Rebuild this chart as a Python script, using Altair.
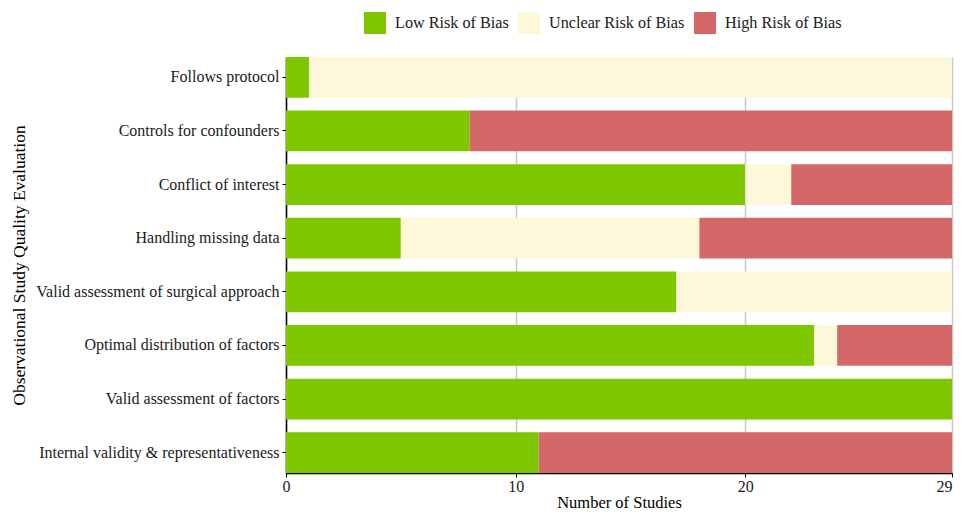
import altair as alt
import pandas as pd

domains = [
    "Follows protocol",
    "Controls for confounders",
    "Conflict of interest",
    "Handling missing data",
    "Valid assessment of surgical approach",
    "Optimal distribution of factors",
    "Valid assessment of factors",
    "Internal validity & representativeness",
]
low = [1, 8, 20, 5, 17, 23, 29, 11]
unclear = [28, 0, 2, 13, 12, 1, 0, 0]
high = [0, 21, 7, 11, 0, 5, 0, 18]

categories = ["Low Risk of Bias", "Unclear Risk of Bias", "High Risk of Bias"]
colors = ["#7EC600", "#FEF8DA", "#D46868"]
x_ticks = [0, 10, 20, 29]

rows = []
for i, d in enumerate(domains):
    for k, (cat, vals) in enumerate(zip(categories, [low, unclear, high])):
        rows.append({"domain": d, "risk": cat, "n": vals[i], "ord": k})
df = pd.DataFrame(rows)

font = "Liberation Serif"

chart = alt.Chart(df).mark_bar().encode(
    y=alt.Y("domain:N", sort=domains,
            scale=alt.Scale(paddingInner=0.24, paddingOuter=0),
            axis=alt.Axis(title="Observational Study Quality Evaluation",
                          titleFont=font, titleFontSize=17.5, titleFontWeight="normal",
                          titleColor="black", titleX=-262, titleBaseline="alphabetic",
                          labelFont=font, labelFontSize=16, labelColor="#1a1a1a",
                          labelLimit=400, labelPadding=3, tickSize=4, tickColor="black",
                          domainColor="black", domainWidth=1.5, grid=False)),
    x=alt.X("n:Q", stack="zero",
            scale=alt.Scale(domain=[0, 29], nice=False, zero=True),
            axis=alt.Axis(title="Number of Studies", values=x_ticks,
                          titleFont=font, titleFontSize=16.5, titleFontWeight="normal",
                          titleColor="black", titleY=34, titleBaseline="alphabetic",
                          labelFont=font, labelFontSize=16, labelColor="#1a1a1a",
                          labelPadding=1, tickSize=4, tickColor="black",
                          labelAlign={"expr": "datum.value == 29 ? 'right' : 'center'"},
                          domainColor="black", domainWidth=1.5,
                          grid=True, gridColor="#c8c8c8", gridWidth=1.5,
                          labelFlush=False)),
    color=alt.Color("risk:N", sort=categories,
                    scale=alt.Scale(domain=categories, range=colors),
                    legend=alt.Legend(title=None, orient="none", direction="horizontal",
                                      legendX=78, legendY=-45,
                                      symbolType="square", symbolSize=484,
                                      symbolStrokeWidth=0, symbolOpacity=1,
                                      labelFont=font, labelFontSize=16.2, labelColor="#1a1a1a",
                                      labelOffset=9, columnPadding=9)),
    order=alt.Order("ord:Q"),
).properties(
    width=666, height=416,
    autosize=alt.AutoSizeParams(type="none"),
    padding={"left": 278, "top": 49, "right": 2, "bottom": 39},
).configure_view(stroke=None)

chart.save("out.html", embed_options={"renderer": "svg", "actions": False})
